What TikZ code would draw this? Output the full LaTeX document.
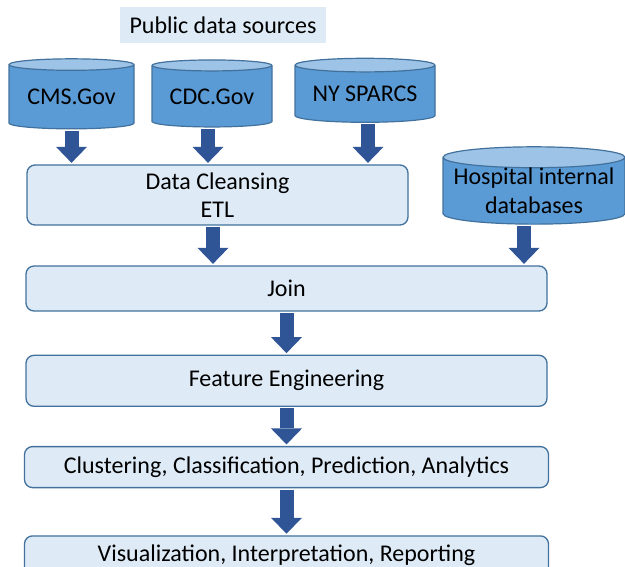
\documentclass[tikz,border=0pt]{standalone}
\usepackage{fontspec}
\setmainfont{Carlito}
\usepackage{tikz}
\usetikzlibrary{positioning,shapes.geometric,arrows.meta}
\definecolor{boxfill}{HTML}{DEEBF7}
\definecolor{boxline}{HTML}{41719C}
\definecolor{arrowblue}{HTML}{2F5597}
\definecolor{dbbody}{HTML}{5B9BD5}
\definecolor{dbtop}{HTML}{9DC3E6}
\tikzset{
  stage/.style={draw=boxline, line width=1.3pt, fill=boxfill, rounded corners=8pt, align=center, minimum width=521pt, inner sep=0pt},
  srclabel/.style={fill=boxfill, minimum width=206pt, minimum height=36pt, inner sep=0pt},
  datastore/.style={cylinder, shape border rotate=90, aspect=0.13, draw=boxline, line width=1.2pt, cylinder uses custom fill, cylinder body fill=dbbody, cylinder end fill=dbtop, align=center, inner sep=0pt},
  flowarrow/.style={line width=14pt, draw=arrowblue, -{Triangle[width=31pt, length=16pt, line width=0pt]}, shorten <=1.5pt, shorten >=1.5pt}
}

\begin{document}
\begin{tikzpicture}[x=1pt, y=-1pt, font=\fontsize{24}{28.5}\selectfont]
  \useasboundingbox (0,0) rectangle (625,567);

  \node[srclabel] (public) at (223,25.5) {Public data sources};
  \node[datastore, minimum width=125pt, minimum height=70pt] (cms) at (71.5,97) {CMS.Gov};
  \node[datastore, minimum width=120pt, minimum height=67pt] (cdc) at (212,96.5) {CDC.Gov};
  \node[datastore, minimum width=140pt, minimum height=64pt] (sparcs) at (365,94) {NY SPARCS};
  \node[datastore, minimum width=182pt, minimum height=76pt] (hospdb) at (534,191) {Hospital internal\\databases};

  \node[stage, minimum width=381pt, minimum height=60pt] (cleanse) at (217.5,195) {Data Cleansing\\ETL};
  \node[stage, minimum height=45pt] (join) at (286.5,288.5) {Join};
  \node[stage, minimum height=51pt, below=43pt of join] (features) {Feature Engineering};
  \node[stage, minimum height=41pt, minimum width=524pt, below=39pt of features] (models) {Clustering, Classification, Prediction, Analytics};
  \node[stage, minimum height=39pt, minimum width=524pt, below=47pt of models] (report) {Visualization, Interpretation, Reporting};

  \draw[flowarrow] (cms.south) -- (cms.south |- cleanse.north);
  \draw[flowarrow] ([xshift=-4pt]cdc.south) -- ([xshift=-4pt]cdc.south |- cleanse.north);
  \draw[flowarrow] ([xshift=3pt]sparcs.south) -- ([xshift=3pt]sparcs.south |- cleanse.north);
  \draw[flowarrow] ([xshift=-4.5pt]cleanse.south) -- ([xshift=-4.5pt]cleanse.south |- join.north);
  \draw[flowarrow] ([xshift=-10pt]hospdb.south) -- ([xshift=-10pt]hospdb.south |- join.north);
  \draw[flowarrow] (join) -- (features);
  \draw[flowarrow] (features) -- (models);
  \draw[flowarrow] (models) -- (report);
\end{tikzpicture}
\end{document}
